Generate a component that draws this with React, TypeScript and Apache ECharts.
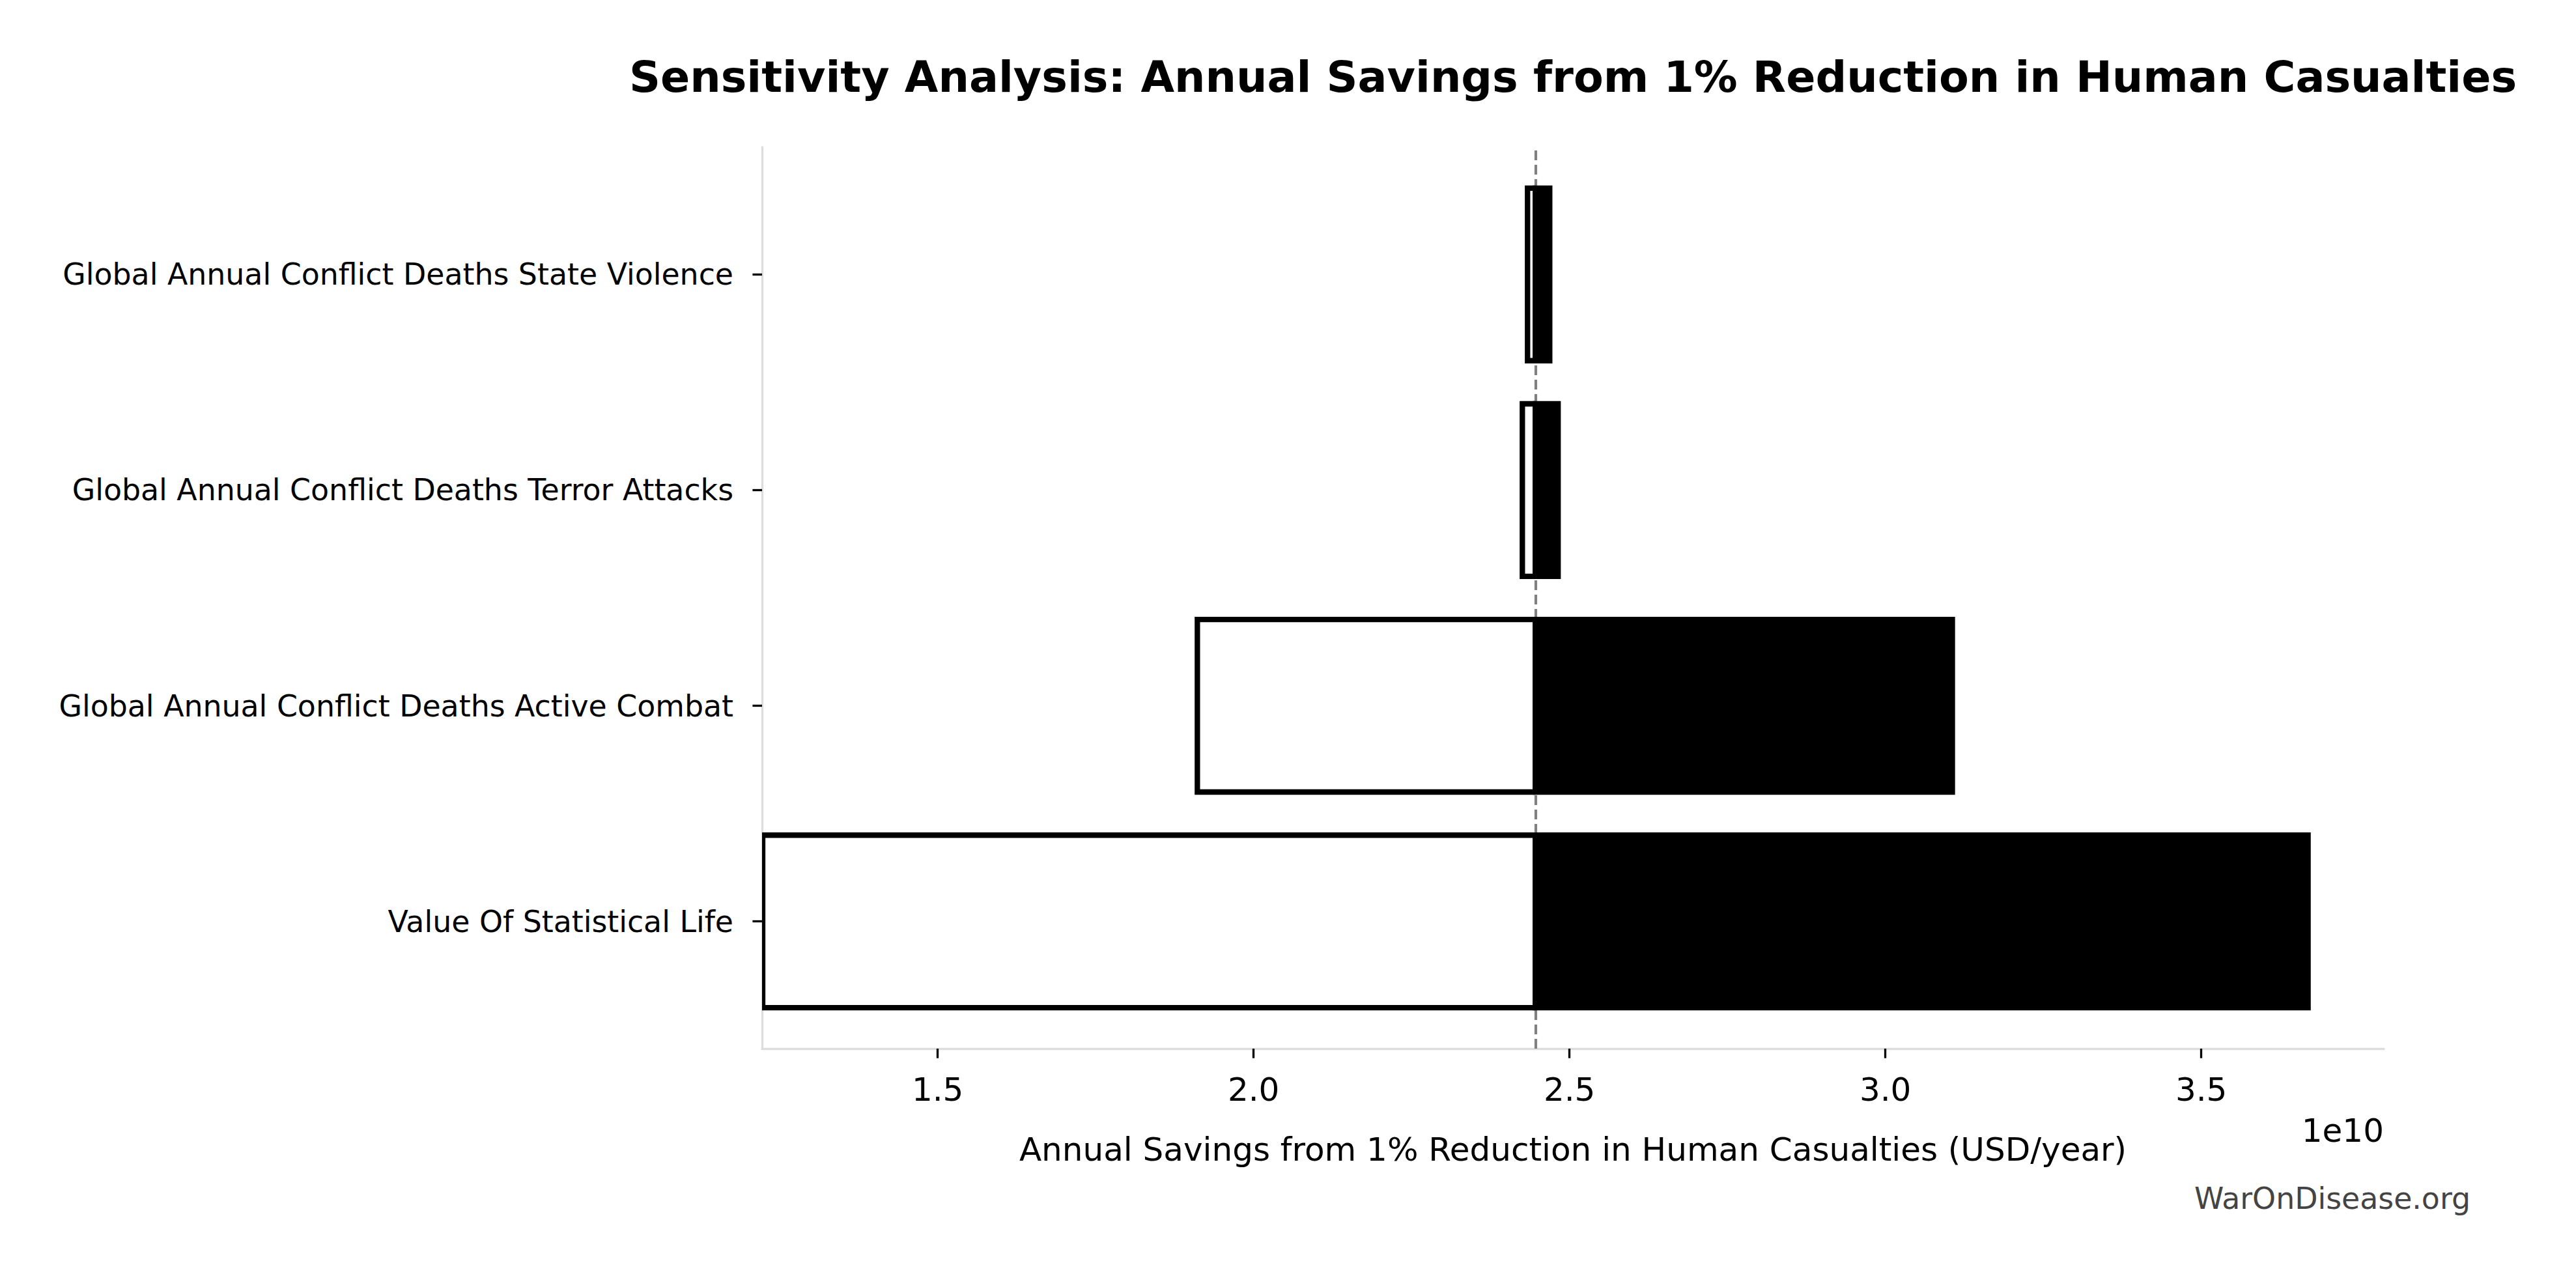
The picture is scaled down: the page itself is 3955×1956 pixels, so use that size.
import React, { useEffect, useRef } from "react";
import * as echarts from "echarts";

const TITLE = "Sensitivity Analysis: Annual Savings from 1% Reduction in Human Casualties";
const X_LABEL = "Annual Savings from 1% Reduction in Human Casualties (USD/year)";
const WATERMARK = "WarOnDisease.org";
const OFFSET_TEXT = "1e10";

// bottom to top
const categories = [
  "Value Of Statistical Life",
  "Global Annual Conflict Deaths Active Combat",
  "Global Annual Conflict Deaths Terror Attacks",
  "Global Annual Conflict Deaths State Violence",
];
const lowValues = [1.223e10, 1.911e10, 2.4254e10, 2.4336e10];
const highValues = [3.669e10, 3.106e10, 2.482e10, 2.4687e10];
const BASELINE = 2.446e10;
const xTicks = [1.5e10, 2.0e10, 2.5e10, 3.0e10, 3.5e10];
const X_MIN = 1.222e10;
const X_MAX = 3.789e10;
const BAR_HEIGHT = 0.8;

const W = 3955;
const H = 1956;
const FONT = "DejaVu Sans";
const EDGE = 8.33;

export default function App() {
  const ref = useRef<HTMLDivElement>(null);
  useEffect(() => {
    if (!ref.current) return;
    const chart = echarts.init(ref.current, null, { renderer: "svg" });
    const gridLeft = 1170;
    const gridTop = 226;
    const gridW = 3660 - 1170;
    const gridH = 1610 - 226;
    const data = categories.map((_, i) => [i, lowValues[i], highValues[i], BASELINE]);
    chart.setOption({
      animation: false,
      backgroundColor: "#ffffff",
      textStyle: { fontFamily: FONT },
      grid: { left: gridLeft, top: gridTop, width: gridW, height: gridH, containLabel: false },
      xAxis: {
        type: "value",
        min: X_MIN,
        max: X_MAX,
        axisLine: { show: true, onZero: false, lineStyle: { color: "#dddddd", width: 3.3 } },
        axisTick: { show: true, customValues: xTicks, length: 14.6, lineStyle: { color: "#000000", width: 3.3 } },
        axisLabel: {
          show: true,
          customValues: xTicks,
          margin: 38,
          fontSize: 50,
          fontFamily: FONT,
          color: "#000000",
          formatter: (v: number) => (v / 1e10).toFixed(1),
        },
        splitLine: { show: false },
      },
      yAxis: {
        type: "value",
        min: -0.59,
        max: 3.59,
        axisLine: { show: true, onZero: false, lineStyle: { color: "#dddddd", width: 3.3 } },
        axisTick: { show: true, customValues: [0, 1, 2, 3], length: 14.6, lineStyle: { color: "#000000", width: 3.3 } },
        axisLabel: {
          show: true,
          customValues: [0, 1, 2, 3],
          margin: 44,
          fontSize: 45.8,
          fontFamily: FONT,
          color: "#000000",
          formatter: (v: number) => categories[Math.round(v)] ?? "",
        },
        splitLine: { show: false },
      },
      series: [
        {
          type: "line",
          data: [],
          z: 1,
          silent: true,
          markLine: {
            silent: true,
            z: 1,
            symbol: ["none", "none"],
            label: { show: false },
            lineStyle: { type: [15, 7], color: "#808080", width: 4.17 },
            data: [{ xAxis: BASELINE }],
          },
        },
        {
          type: "custom",
          z: 10,
          data,
          encode: { x: [1, 2, 3], y: 0 },
          renderItem: (params: any, api: any) => {
            const cs = params.coordSys;
            const y = api.value(0);
            const low = api.value(1);
            const high = api.value(2);
            const base = api.value(3);
            const pLow = api.coord([low, y]);
            const pBase = api.coord([base, y]);
            const pHigh = api.coord([high, y]);
            const h = api.size([0, BAR_HEIGHT])[1];
            const half = EDGE / 2;
            const top = pBase[1] - h / 2;
            const outerLeft = Math.max(cs.x, pLow[0] - half);
            const outerRight = Math.min(cs.x + cs.width, pHigh[0] + half);
            return {
              type: "group",
              children: [
                {
                  type: "rect",
                  shape: { x: outerLeft, y: top - half, width: pBase[0] - outerLeft, height: h + EDGE },
                  style: { fill: "#000000" },
                },
                {
                  type: "rect",
                  shape: {
                    x: pLow[0] + half,
                    y: top + half,
                    width: Math.max(0, pBase[0] - pLow[0] - EDGE),
                    height: h - EDGE,
                  },
                  style: { fill: "#ffffff" },
                },
                {
                  type: "rect",
                  shape: { x: pBase[0] - half, y: top - half, width: outerRight - (pBase[0] - half), height: h + EDGE },
                  style: { fill: "#000000" },
                },
              ],
            };
          },
        },
      ],
      graphic: [
        {
          type: "text",
          x: 2415,
          y: 118,
          style: {
            text: TITLE,
            fontFamily: FONT,
            fontSize: 66.7,
            fontWeight: "bold",
            fill: "#000000",
            textAlign: "center",
            textVerticalAlign: "middle",
          },
        },
        {
          type: "text",
          x: 2415,
          y: 1765,
          style: {
            text: X_LABEL,
            fontFamily: FONT,
            fontSize: 50,
            fill: "#000000",
            textAlign: "center",
            textVerticalAlign: "middle",
          },
        },
        {
          type: "text",
          x: 3660,
          y: 1736,
          style: {
            text: OFFSET_TEXT,
            fontFamily: FONT,
            fontSize: 50,
            fill: "#000000",
            textAlign: "right",
            textVerticalAlign: "middle",
          },
        },
        {
          type: "text",
          x: 3793,
          y: 1840,
          style: {
            text: WATERMARK,
            fontFamily: FONT,
            fontSize: 45.8,
            fill: "#444444",
            textAlign: "right",
            textVerticalAlign: "middle",
          },
        },
      ],
    });
    return () => chart.dispose();
  }, []);
  return (
    <div
      ref={ref}
      style={{ position: "absolute", left: 0, top: 0, width: W, height: H, background: "#ffffff" }}
    />
  );
}
